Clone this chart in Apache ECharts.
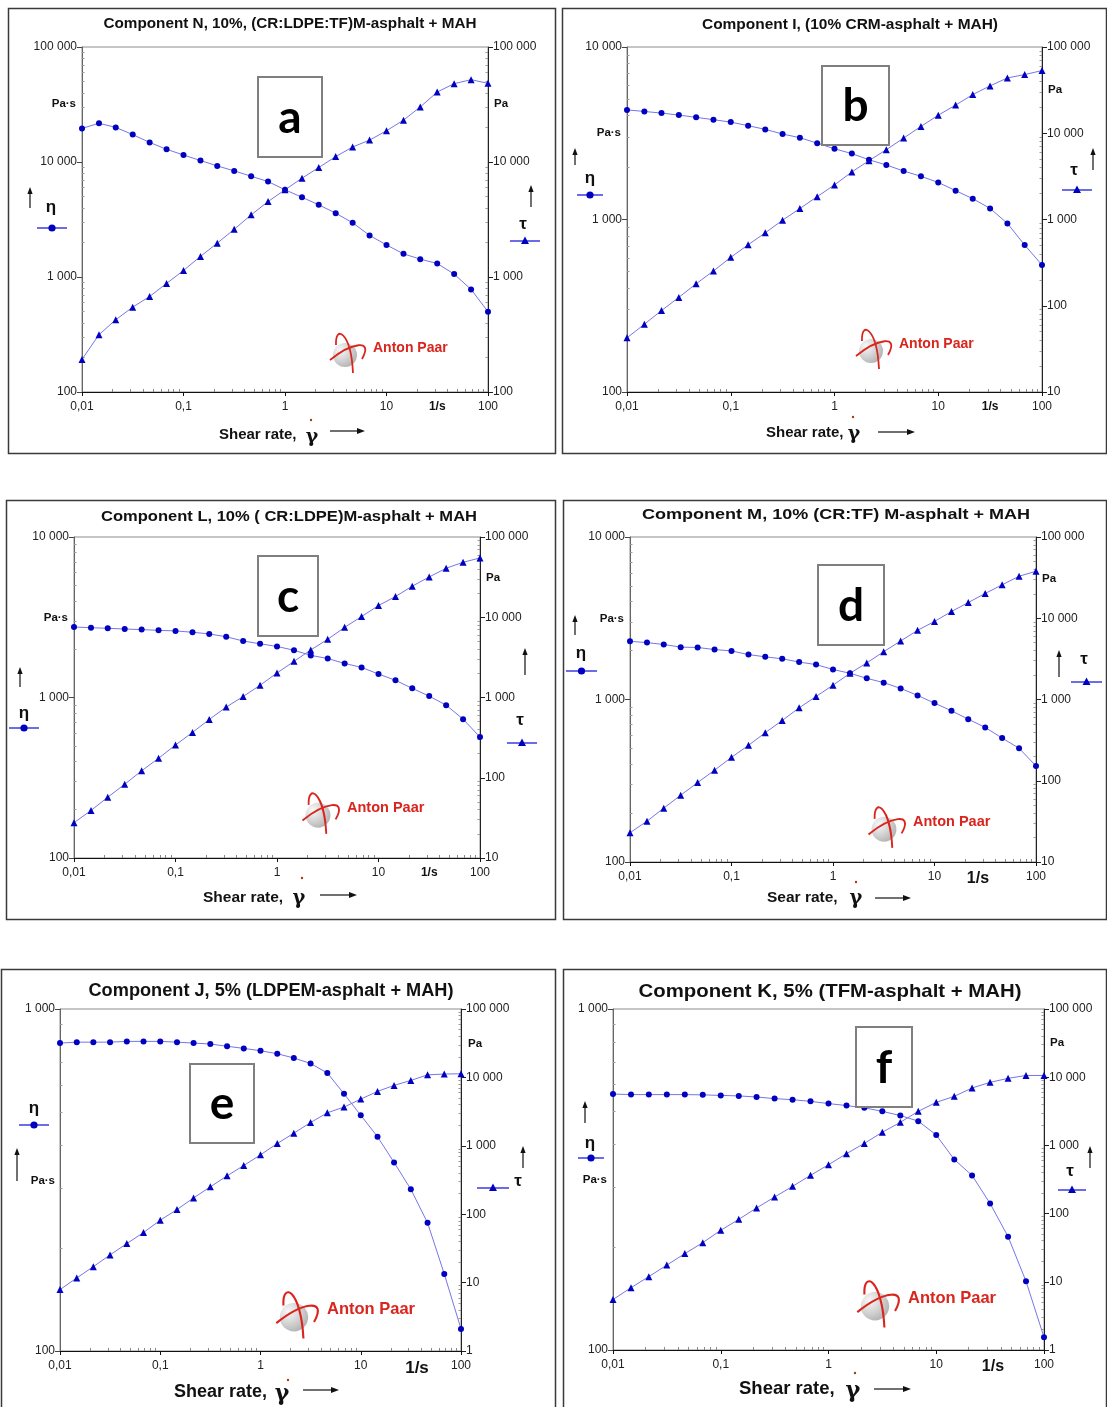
<!DOCTYPE html>
<html>
<head>
<meta charset="utf-8">
<script src="https://cdn.jsdelivr.net/npm/echarts@6/dist/echarts.min.js"></script>
<style>
html,body{margin:0;padding:0;background:#fff;}
#c{width:1107px;height:1407px;}
</style>
</head>
<body>
<div id="c"></div>
<script>
// ---------------- DATA ----------------
const shearRate = [0.01, 0.0147, 0.0215, 0.0316, 0.0464, 0.0681, 0.1, 0.147, 0.215, 0.316, 0.464, 0.681, 1, 1.47, 2.15, 3.16, 4.64, 6.81, 10, 14.7, 21.5, 31.6, 46.4, 68.1, 100];

const xTickLabels = ['0,01', '0,1', '1', '10', '100'];
const yTickLabels = ['1', '10', '100', '1 000', '10 000', '100 000'];

const titleN = 'Component N, 10%, (CR:LDPE:TF)M-asphalt + MAH';
const titleI = 'Component I, (10% CRM-asphalt + MAH)';
const titleL = 'Component L, 10% ( CR:LDPE)M-asphalt + MAH';
const titleM = 'Component M, 10% (CR:TF) M-asphalt + MAH';
const titleJ = 'Component J, 5% (LDPEM-asphalt + MAH)';
const titleK = 'Component K, 5% (TFM-asphalt + MAH)';

const etaN = [19600, 21700, 20000, 17300, 14800, 12900, 11500, 10300, 9250, 8370, 7520, 6760, 5730, 4940, 4240, 3590, 2960, 2300, 1900, 1590, 1430, 1310, 1060, 780, 499];
const tauN = [192, 315, 425, 547, 677, 879, 1140, 1510, 1970, 2600, 3470, 4530, 5730, 7230, 8950, 11150, 13500, 15500, 18700, 23100, 30100, 40600, 48000, 52000, 48300];

const etaI = [4320, 4230, 4140, 4030, 3910, 3790, 3670, 3500, 3330, 3130, 2980, 2770, 2570, 2410, 2220, 2070, 1910, 1780, 1640, 1470, 1320, 1160, 949, 711, 545];
const tauI = [42.5, 61, 88, 125, 180, 253, 364, 509, 701, 982, 1340, 1840, 2520, 3560, 4810, 6450, 8790, 12000, 16200, 21200, 28100, 35400, 43800, 47900, 53300];

const etaL = [2750, 2720, 2700, 2670, 2650, 2620, 2600, 2550, 2490, 2390, 2250, 2160, 2080, 1970, 1830, 1750, 1630, 1540, 1400, 1280, 1140, 1020, 896, 733, 567];
const tauL = [27.5, 39.1, 57.2, 83, 122, 175, 256, 367, 533, 759, 1030, 1420, 2020, 2820, 3910, 5310, 7480, 10200, 14000, 18100, 24400, 31800, 40800, 48400, 54800];

const etaM = [2280, 2240, 2180, 2100, 2090, 2030, 1990, 1890, 1830, 1780, 1700, 1640, 1530, 1450, 1350, 1270, 1170, 1060, 950, 852, 757, 673, 579, 501, 390];
const tauM = [22.9, 31.8, 46, 66.4, 95, 135, 194, 273, 390, 552, 790, 1090, 1500, 2100, 2820, 3880, 5250, 7100, 9140, 12100, 15600, 20200, 25800, 32900, 37900];

const etaJ = [795, 800, 800, 800, 804, 804, 804, 800, 795, 790, 778, 767, 755, 740, 719, 693, 650, 565, 489, 423, 356, 297, 237, 168, 116];
const tauJ = [7.9, 11.7, 17.1, 25.4, 37.2, 54, 81.7, 117, 173, 251, 364, 515, 738, 1080, 1530, 2190, 3040, 3680, 4820, 6240, 7640, 9030, 10900, 11200, 11300];

const etaK = [563, 561, 561, 561, 561, 560, 558, 556, 552, 546, 542, 536, 528, 521, 513, 501, 487, 469, 427, 362, 325, 269, 215, 159, 109];
const tauK = [5.5, 8.2, 11.9, 17.6, 25.9, 37.5, 56.9, 82.4, 121, 175, 251, 364, 521, 757, 1070, 1560, 2180, 3160, 4280, 5240, 6950, 8410, 9620, 10600, 10600];

// ---------------- LAYOUT / STYLE ----------------
const FONT = '"Liberation Sans", Arial, Helvetica, sans-serif';
const MARK = '#0000c0';
const LINE = '#7676e8';
const LOGO_RED = '#d9251d';

const panels = [
  {letter:'a', title:titleN, eta:etaN, tau:tauN, yL:[100,100000], yR:[100,100000], unitAt:31.62, unitSize:12,
   grid:[82,47,406,345], frame:[8,8,547,445], titlePos:[290,24,373,15], box:[258,77,64,80],
   paS:[76,104], pa:[494,104], etaArrow:[30,187,208], etaSym:[51,207], etaLeg:[37,67,228],
   tauArrow:[531,185,207], tauSym:[523,224], tauLeg:[510,540,241],
   logo:[373,348,14], xname:['Shear rate,',219,435,15], gamma:[312,437,311,420], xArrow:[330,365,431]},
  {letter:'b', title:titleI, eta:etaI, tau:tauI, yL:[100,10000], yR:[10,100000], unitAt:31.62, unitSize:12,
   grid:[627,47,415,345], frame:[562,8,544,445], titlePos:[850,25,296,15], box:[822,66,67,79],
   paS:[621,133], pa:[1048,90], etaArrow:[575,148,165], etaSym:[590,178], etaLeg:[577,603,195],
   tauArrow:[1093,148,170], tauSym:[1074,170], tauLeg:[1062,1092,190],
   logo:[899,344,14], xname:['Shear rate,',766,433,15], gamma:[854,434,853,417], xArrow:[878,915,432]},
  {letter:'c', title:titleL, eta:etaL, tau:tauL, yL:[100,10000], yR:[10,100000], unitAt:31.62, unitSize:12,
   grid:[74,537,406,321], frame:[6,500,549,419], titlePos:[289,517,376,15], box:[258,556,60,80],
   paS:[68,618], pa:[486,578], etaArrow:[20,667,687], etaSym:[24,713], etaLeg:[9,39,728],
   tauArrow:[525,648,675], tauSym:[520,720], tauLeg:[507,537,743],
   logo:[347,808,14.5], xname:['Shear rate,',203,898,15.5], gamma:[299,899,302,878], xArrow:[320,357,895]},
  {letter:'d', title:titleM, eta:etaM, tau:tauM, yL:[100,10000], yR:[10,100000], unitAt:26.8, unitSize:16,
   grid:[630,537,406,325], frame:[563,500,543,419], titlePos:[836,515,388,15], box:[818,565,66,80],
   paS:[624,619], pa:[1042,579], etaArrow:[575,615,635], etaSym:[581,653], etaLeg:[566,597,671],
   tauArrow:[1059,650,677], tauSym:[1084,659], tauLeg:[1071,1102,682],
   logo:[913,822,14.5], xname:['Sear rate,',767,898,15.5], gamma:[856,899,856,882], xArrow:[875,911,898]},
  {letter:'e', title:titleJ, eta:etaJ, tau:tauJ, yL:[100,1000], yR:[1,100000], unitAt:36.4, unitSize:17,
   grid:[60,1009,401,342], frame:[1,969,554,440], titlePos:[271,991,365,17.5], box:[190,1064,64,79],
   paS:[55,1181], pa:[468,1044], etaArrow:[17,1148,1181], etaSym:[34,1108], etaLeg:[19,49,1125],
   tauArrow:[523,1146,1168], tauSym:[518,1181], tauLeg:[477,509,1188],
   logo:[327,1309,16.5], xname:['Shear rate,',174,1392,18], gamma:[282,1394,288,1380], xArrow:[303,339,1390]},
  {letter:'f', title:titleK, eta:etaK, tau:tauK, yL:[100,1000], yR:[1,100000], unitAt:33.6, unitSize:16,
   grid:[613,1009,431,341], frame:[563,969,543,440], titlePos:[830,992,383,18.5], box:[856,1027,56,80],
   paS:[607,1180], pa:[1050,1043], etaArrow:[585,1101,1123], etaSym:[590,1143], etaLeg:[578,604,1158],
   tauArrow:[1090,1146,1168], tauSym:[1070,1171], tauLeg:[1058,1086,1190],
   logo:[908,1298,16.5], xname:['Shear rate,',739,1389,18.5], gamma:[853,1391,855,1373], xArrow:[874,911,1389]}
];

// ---------------- HELPERS ----------------
function decades(lo, hi) {
  const out = [];
  for (let e = Math.round(Math.log10(lo)); e <= Math.round(Math.log10(hi)); e++) out.push(Math.pow(10, e));
  return out;
}
function minors(lo, hi) {
  const out = [];
  for (let e = Math.round(Math.log10(lo)); e < Math.round(Math.log10(hi)); e++)
    for (let m = 2; m <= 9; m++) out.push(+(m * Math.pow(10, e)).toPrecision(6));
  return out;
}
function yFmt(v) { return yTickLabels[Math.round(Math.log10(v))] || ''; }

const measureCtx = document.createElement('canvas').getContext('2d');
function textWidth(t, font) { measureCtx.font = font; return measureCtx.measureText(t).width; }

function txt(x, y, text, font, fill, align, valign, extra) {
  return Object.assign({
    type:'text', x:x, y:y, silent:true, z:20,
    style:{text:text, font:font, fill:fill || '#111', textAlign:align || 'left', textVerticalAlign:valign || 'middle',
           align:align || 'left', verticalAlign:valign || 'middle'}
  }, extra || {});
}
function line(x1, y1, x2, y2, color, w) {
  return {type:'line', silent:true, z:20, shape:{x1:x1, y1:y1, x2:x2, y2:y2}, style:{stroke:color, lineWidth:w || 1}};
}
function poly(points, color) {
  return {type:'polygon', silent:true, z:20, shape:{points:points}, style:{fill:color}};
}
function upArrow(x, yTop, yBot) {
  return [line(x, yBot, x, yTop + 5, '#111', 1.2), poly([[x - 2.6, yTop + 7], [x + 2.6, yTop + 7], [x, yTop]], '#111')];
}
function rightArrow(x1, x2, y) {
  return [line(x1, y, x2 - 6, y, '#111', 1.2), poly([[x2 - 8, y - 3], [x2 - 8, y + 3], [x2, y]], '#111')];
}

// ---------------- OPTION ----------------
const option = {
  animation:false, backgroundColor:'#ffffff',
  grid:[], xAxis:[], yAxis:[], series:[], graphic:{elements:[]}
};
const G = option.graphic.elements;

panels.forEach((p, i) => {
  option.grid.push({left:p.grid[0], top:p.grid[1], width:p.grid[2], height:p.grid[3],
    show:true, borderColor:'#8c8c8c', borderWidth:1, backgroundColor:'transparent'});

  const xMajor = decades(0.01, 100);
  const xi = option.xAxis.length;
  option.xAxis.push({
    type:'log', logBase:10, gridIndex:i, min:0.01, max:100, position:'bottom',
    axisLine:{show:true, onZero:false, lineStyle:{color:'#111', width:1}},
    axisTick:{show:true, customValues:xMajor, length:4, lineStyle:{color:'#111'}},
    axisLabel:{show:true, customValues:xMajor.concat([p.unitAt]), showMinLabel:true, showMaxLabel:true,
      margin:9, fontSize:12, fontFamily:FONT, color:'#222',
      formatter:function (v) {
        if (Math.abs(v / p.unitAt - 1) < 0.01) return '{u|1/s}';
        return xTickLabels[Math.round(Math.log10(v)) + 2];
      },
      rich:{u:{fontSize:p.unitSize, fontWeight:'bold', fontFamily:FONT, color:'#111'}}},
    splitLine:{show:false}
  });
  option.xAxis.push({
    type:'log', logBase:10, gridIndex:i, min:0.01, max:100, position:'bottom',
    axisLine:{show:false}, axisLabel:{show:false}, splitLine:{show:false},
    axisTick:{show:true, inside:true, customValues:minors(0.01, 100), length:3, lineStyle:{color:'#888'}}
  });

  const yl = option.yAxis.length;
  option.yAxis.push({
    type:'log', logBase:10, gridIndex:i, min:p.yL[0], max:p.yL[1], position:'left',
    axisLine:{show:true, lineStyle:{color:'#666', width:1}},
    axisTick:{show:true, customValues:decades(p.yL[0], p.yL[1]), length:5, lineStyle:{color:'#444'}},
    axisLabel:{show:true, customValues:decades(p.yL[0], p.yL[1]), showMinLabel:true, showMaxLabel:true,
      margin:5, fontSize:12, fontFamily:FONT, color:'#222', formatter:yFmt},
    splitLine:{show:false}
  });
  const yr = option.yAxis.length;
  option.yAxis.push({
    type:'log', logBase:10, gridIndex:i, min:p.yR[0], max:p.yR[1], position:'right',
    axisLine:{show:true, lineStyle:{color:'#222', width:1}},
    axisTick:{show:true, customValues:decades(p.yR[0], p.yR[1]), length:5, lineStyle:{color:'#222'}},
    axisLabel:{show:true, customValues:decades(p.yR[0], p.yR[1]), showMinLabel:true, showMaxLabel:true,
      margin:5, fontSize:12, fontFamily:FONT, color:'#222', formatter:yFmt},
    splitLine:{show:false}
  });
  option.yAxis.push({
    type:'log', logBase:10, gridIndex:i, min:p.yL[0], max:p.yL[1], position:'left',
    axisLine:{show:false}, axisLabel:{show:false}, splitLine:{show:false},
    axisTick:{show:true, inside:true, customValues:minors(p.yL[0], p.yL[1]), length:2.5, lineStyle:{color:'#999'}}
  });
  option.yAxis.push({
    type:'log', logBase:10, gridIndex:i, min:p.yR[0], max:p.yR[1], position:'right',
    axisLine:{show:false}, axisLabel:{show:false}, splitLine:{show:false},
    axisTick:{show:true, inside:true, customValues:minors(p.yR[0], p.yR[1]), length:2.5, lineStyle:{color:'#999'}}
  });

  option.series.push({
    name:'η', type:'line', xAxisIndex:xi, yAxisIndex:yl, silent:true,
    data:shearRate.map((x, k) => [x, p.eta[k]]),
    symbol:'circle', symbolSize:6, itemStyle:{color:MARK}, lineStyle:{color:LINE, width:1}, z:3
  });
  option.series.push({
    name:'τ', type:'line', xAxisIndex:xi, yAxisIndex:yr, silent:true,
    data:shearRate.map((x, k) => [x, p.tau[k]]),
    symbol:'triangle', symbolSize:7, itemStyle:{color:MARK}, lineStyle:{color:LINE, width:1}, z:3
  });

  // frame
  G.push({type:'rect', silent:true, z:1, shape:{x:p.frame[0] + 0.5, y:p.frame[1] + 0.5, width:p.frame[2], height:p.frame[3]},
          style:{fill:null, stroke:'#3a3a3a', lineWidth:1.5}});
  // title (fit to width)
  const tf = 'bold ' + p.titlePos[3] + 'px ' + FONT;
  const sx = p.titlePos[2] / textWidth(p.title, tf);
  G.push(txt(p.titlePos[0], p.titlePos[1], p.title, tf, '#111', 'center', 'middle', {scaleX:sx}));
  // letter box
  G.push({type:'rect', silent:true, z:30, shape:{x:p.box[0], y:p.box[1], width:p.box[2], height:p.box[3]},
          style:{fill:'#ffffff', stroke:'#7f7f7f', lineWidth:2}});
  G.push(Object.assign(txt(p.box[0] + p.box[2] / 2, p.box[1] + p.box[3] / 2 + 1, p.letter, 'bold 46px Lato, "Open Sans", sans-serif', '#000', 'center', 'middle'), {z:31}));
  // units
  G.push(txt(p.paS[0], p.paS[1], 'Pa·s', 'bold 11.5px ' + FONT, '#111', 'right', 'middle'));
  G.push(txt(p.pa[0], p.pa[1], 'Pa', 'bold 11.5px ' + FONT, '#111', 'left', 'middle'));
  // eta legend
  upArrow(p.etaArrow[0], p.etaArrow[1], p.etaArrow[2]).forEach(e => G.push(e));
  G.push(txt(p.etaSym[0], p.etaSym[1], 'η', 'bold 17px ' + FONT, '#111', 'center', 'middle'));
  G.push(line(p.etaLeg[0], p.etaLeg[2], p.etaLeg[1], p.etaLeg[2], '#3b3be0', 1.5));
  G.push({type:'circle', silent:true, z:21, shape:{cx:(p.etaLeg[0] + p.etaLeg[1]) / 2, cy:p.etaLeg[2], r:3.6}, style:{fill:MARK}});
  // tau legend
  upArrow(p.tauArrow[0], p.tauArrow[1], p.tauArrow[2]).forEach(e => G.push(e));
  G.push(txt(p.tauSym[0], p.tauSym[1], 'τ', 'bold 17px ' + FONT, '#111', 'center', 'middle'));
  G.push(line(p.tauLeg[0], p.tauLeg[2], p.tauLeg[1], p.tauLeg[2], '#3b3be0', 1.5));
  const tcx = (p.tauLeg[0] + p.tauLeg[1]) / 2, tcy = p.tauLeg[2];
  G.push(Object.assign(poly([[tcx - 4, tcy + 3], [tcx + 4, tcy + 3], [tcx, tcy - 4.5]], MARK), {z:21}));
  // x name
  G.push(txt(p.xname[1], p.xname[2], p.xname[0], 'bold ' + p.xname[3] + 'px ' + FONT, '#111', 'left', 'middle'));
  G.push(txt(p.gamma[0], p.gamma[1], 'γ', 'bold ' + (p.xname[3] + 4) + 'px "DejaVu Serif", serif', '#111', 'center', 'middle'));
  G.push({type:'circle', silent:true, z:21, shape:{cx:p.gamma[2], cy:p.gamma[3], r:1.2}, style:{fill:'#a04010'}});
  rightArrow(p.xArrow[0], p.xArrow[1], p.xArrow[2]).forEach(e => G.push(e));
  // Anton Paar logo
  const lx = p.logo[0], ly = p.logo[1], s = p.logo[2] / 14;
  G.push({type:'circle', silent:true, z:5, shape:{cx:lx - 28 * s, cy:ly + 7 * s, r:12 * s},
          style:{fill:new echarts.graphic.RadialGradient(0.3, 0.3, 0.9, [{offset:0, color:'#f8f8f8'}, {offset:0.55, color:'#cdcdcd'}, {offset:1, color:'#a6a6a6'}])}});
  G.push({type:'bezierCurve', silent:true, z:6, shape:{x1:lx - 37 * s, y1:ly - 3 * s, cpx1:lx - 38 * s, cpy1:ly - 24 * s, cpx2:lx - 22 * s, cpy2:ly - 16 * s, x2:lx - 20 * s, y2:ly + 25 * s},
          style:{stroke:LOGO_RED, lineWidth:1.8 * s, fill:null}});
  G.push({type:'bezierCurve', silent:true, z:6, shape:{x1:lx - 43 * s, y1:ly + 12 * s, cpx1:lx - 22 * s, cpy1:ly - 5 * s, cpx2:lx + 1 * s, cpy2:ly - 10 * s, x2:lx - 11 * s, y2:ly + 11 * s},
          style:{stroke:LOGO_RED, lineWidth:1.8 * s, fill:null}});
  G.push(txt(lx, ly, 'Anton Paar', 'bold ' + p.logo[2] + 'px ' + FONT, LOGO_RED, 'left', 'middle'));
});

const chart = echarts.init(document.getElementById('c'), null, {renderer:'canvas', width:1107, height:1407});
chart.setOption(option);
</script>
</body>
</html>
